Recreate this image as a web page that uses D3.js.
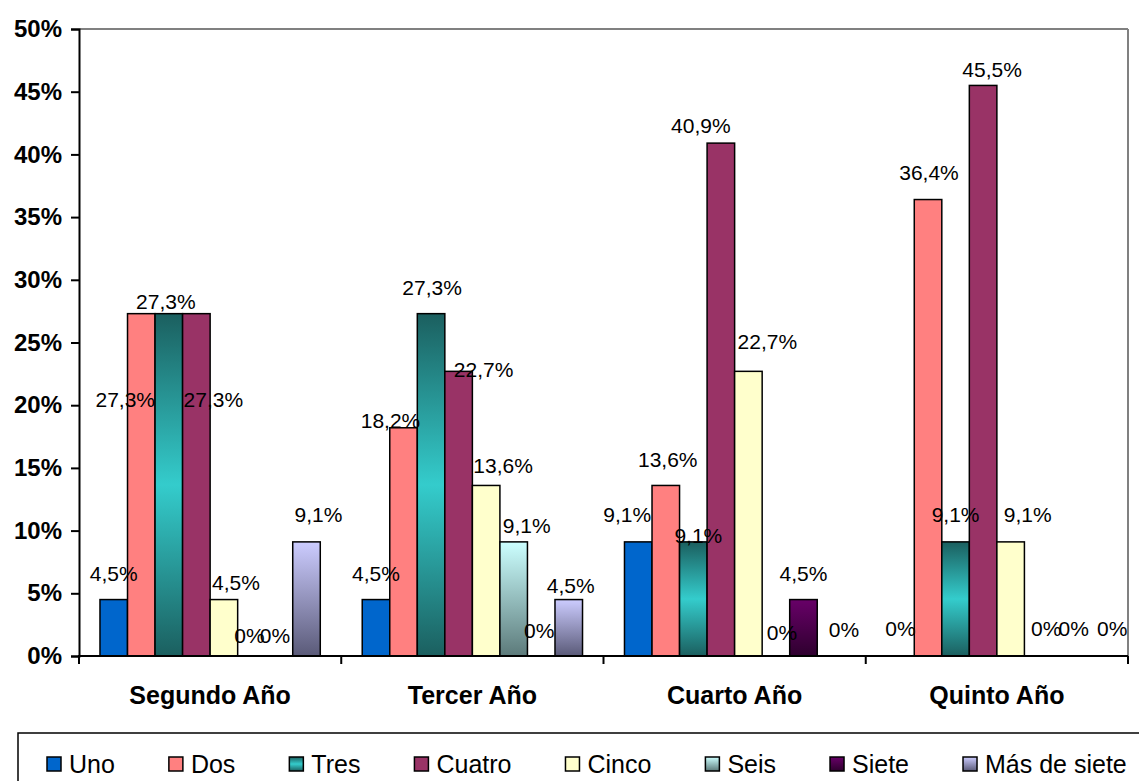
<!DOCTYPE html>
<html>
<head>
<meta charset="utf-8">
<script src="https://cdn.jsdelivr.net/npm/d3@7"></script>
<style>
  html, body { margin: 0; padding: 0; background: #fff; }
  svg { display: block; }
  text { font-family: "Liberation Sans", Arial, sans-serif; fill: #000; }
</style>
</head>
<body>
<svg id="chart" width="1139" height="781"></svg>
<script>
// ---------------- data ----------------
const categories = ["Segundo Año", "Tercer Año", "Cuarto Año", "Quinto Año"];
const seriesNames = ["Uno", "Dos", "Tres", "Cuatro", "Cinco", "Seis", "Siete", "Más de siete"];
const uno    = [4.5, 4.5, 9.1, 0];
const dos    = [27.3, 18.2, 13.6, 36.4];
const tres   = [27.3, 27.3, 9.1, 9.1];
const cuatro = [27.3, 22.7, 40.9, 45.5];
const cinco  = [4.5, 13.6, 22.7, 9.1];
const seis   = [0, 9.1, 0, 0];
const siete  = [0, 0, 4.5, 0];
const masDeSiete = [9.1, 4.5, 0, 0];
const yTicks = [0, 5, 10, 15, 20, 25, 30, 35, 40, 45, 50];

const seriesValues = [uno, dos, tres, cuatro, cinco, seis, siete, masDeSiete];

// label nudges (pixels, relative to bar centre / bar top), per category then series
const labelNudges = [
  [[0,-26],[-16,86],[-3,-12],[17,86],[12,-17],[-2,-21],[-4,-21],[12,-27]],
  [[0,-26],[-13,-7],[1,-26],[25,-2],[17,-20],[13,-16],[-2,-26],[2,-14]],
  [[-11,-27],[2,-26],[5,-6],[-20,-18],[19,-30],[6,-24],[0,-26],[13,-27]],
  [[0,-28],[1,-27],[0,-27],[9,-16],[17,-27],[8,-28],[8,-28],[19,-28]]
];

// ---------------- layout ----------------
const plotL = 79, plotR = 1128, plotT = 29, plotB = 656;
const svg = d3.select("#chart");
const defs = svg.append("defs");

function grad(id, stops) {
  const g = defs.append("linearGradient").attr("id", id)
    .attr("x1", 0).attr("y1", 0).attr("x2", 0).attr("y2", 1);
  stops.forEach(s => g.append("stop").attr("offset", s[0]).attr("stop-color", s[1]));
}
grad("gTres", [[0, "#1b5f5f"], [0.5, "#34cccc"], [1, "#1b5f5f"]]);
grad("gSeis", [[0, "#ccffff"], [1, "#5c7a7a"]]);
grad("gSiete", [[0, "#680068"], [1, "#2e002e"]]);
grad("gMas", [[0, "#ccccff"], [1, "#5a5a78"]]);

const fills = ["#0066cc", "#ff8080", "url(#gTres)", "#993366", "#ffffcc",
               "url(#gSeis)", "url(#gSiete)", "url(#gMas)"];

const x = d3.scaleBand().domain(categories).range([plotL, plotR]).padding(0);
const pad = x.bandwidth() * 0.08;
const x1 = d3.scaleBand().domain(seriesNames).range([pad, x.bandwidth() - pad]).padding(0);
const y = d3.scaleLinear().domain([0, 50]).range([plotB, plotT]);

// plot border (top & right, grey)
svg.append("line").attr("x1", plotL).attr("x2", plotR).attr("y1", plotT).attr("y2", plotT)
  .attr("stroke", "#808080").attr("stroke-width", 2);
svg.append("line").attr("x1", plotR).attr("x2", plotR).attr("y1", plotT).attr("y2", plotB)
  .attr("stroke", "#808080").attr("stroke-width", 2);

// bars
const barData = [];
categories.forEach((c, ci) => {
  seriesNames.forEach((s, si) => {
    barData.push({ c, ci, s, si, v: seriesValues[si][ci] });
  });
});

svg.append("g").selectAll("rect").data(barData.filter(d => d.v > 0)).join("rect")
  .attr("x", d => x(d.c) + x1(d.s))
  .attr("y", d => y(d.v))
  .attr("width", x1.bandwidth())
  .attr("height", d => y(0) - y(d.v))
  .attr("fill", d => fills[d.si])
  .attr("stroke", "#000").attr("stroke-width", 1.5);

// y axis
const yAxis = d3.axisLeft(y).tickValues(yTicks).tickSize(8).tickPadding(9).tickFormat(d => d + "%");
const gy = svg.append("g").attr("transform", `translate(${plotL},0)`).call(yAxis);
gy.select(".domain").attr("stroke", "#000").attr("stroke-width", 2);
gy.selectAll(".tick line").attr("stroke", "#000").attr("stroke-width", 2);
gy.selectAll(".tick text").attr("font-size", 24).attr("font-weight", "bold")
  .attr("font-family", '"Liberation Sans", Arial, sans-serif').attr("fill", "#000");

// x axis
const gx = svg.append("g").attr("transform", `translate(0,${plotB})`)
  .call(d3.axisBottom(x).tickSize(0).tickPadding(30));
gx.select(".domain").remove();
gx.selectAll(".tick text").attr("font-size", 25).attr("font-weight", "bold")
  .attr("font-family", '"Liberation Sans", Arial, sans-serif').attr("fill", "#000");
svg.append("line").attr("x1", plotL - 1).attr("x2", plotR).attr("y1", plotB).attr("y2", plotB)
  .attr("stroke", "#000").attr("stroke-width", 2);
const bounds = categories.map(c => x(c)).concat([x.range()[1]]);
svg.append("g").selectAll("line").data(bounds).join("line")
  .attr("x1", d => d).attr("x2", d => d).attr("y1", plotB).attr("y2", plotB + 8)
  .attr("stroke", "#000").attr("stroke-width", 2);

// data labels
svg.append("g").selectAll("text").data(barData).join("text")
  .attr("x", d => x(d.c) + x1(d.s) + x1.bandwidth() / 2 + labelNudges[d.ci][d.si][0])
  .attr("y", d => y(d.v) + labelNudges[d.ci][d.si][1] + 7.5)
  .attr("text-anchor", "middle")
  .attr("font-size", 21)
  .text(d => (d.v === 0 ? "0" : String(d.v).replace(".", ",")) + "%");

// legend
const legTop = 733;
svg.append("rect").attr("x", 18).attr("y", legTop).attr("width", 1200).attr("height", 100)
  .attr("fill", "none").attr("stroke", "#000").attr("stroke-width", 1.5);
const legG = svg.append("g");
let lx = 47;
const legY = 764;
seriesNames.forEach((s, i) => {
  legG.append("rect").attr("x", lx).attr("y", legY - 7).attr("width", 14).attr("height", 14)
    .attr("fill", fills[i]).attr("stroke", "#000").attr("stroke-width", 1.5);
  const t = legG.append("text").attr("x", lx + 22).attr("y", legY + 9)
    .attr("font-size", 25).text(s);
  lx += 22 + t.node().getComputedTextLength() + 54;
});
</script>
</body>
</html>
